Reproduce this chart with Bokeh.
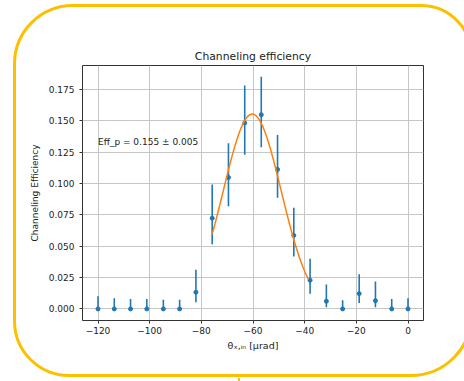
from bokeh.plotting import figure
from bokeh.models import (Range1d, FixedTicker, Label, ColumnDataSource, InlineStyleSheet)
from bokeh.embed import file_html
from bokeh.resources import INLINE
import numpy as np

# ---- data ----
theta_in = [-120.0, -113.7, -107.4, -101.1, -94.7, -88.4, -82.1, -75.8, -69.5, -63.2,
            -56.8, -50.5, -44.2, -37.9, -31.6, -25.3, -18.9, -12.6, -6.3, 0.0]
efficiency = [0.0, 0.0, 0.0, 0.0, 0.0, 0.0, 0.0133, 0.0724, 0.1049, 0.1484,
              0.1550, 0.1113, 0.0586, 0.0229, 0.0061, 0.0, 0.0122, 0.0066, 0.0, 0.0]
eff_lower = [0.0, 0.0, 0.0, 0.0, 0.0, 0.0, 0.0053, 0.0516, 0.0820, 0.1230,
             0.1290, 0.0887, 0.0418, 0.0120, 0.0013, 0.0, 0.0048, 0.0013, 0.0, 0.0]
eff_upper = [0.0101, 0.0085, 0.0080, 0.0080, 0.0074, 0.0074, 0.0312, 0.0993, 0.1323, 0.1782,
             0.1853, 0.1387, 0.0807, 0.0400, 0.0194, 0.0069, 0.0277, 0.0218, 0.0080, 0.0085]

# Gaussian fit parameters (as shown by the fitted curve)
fit_amp = 0.1555
fit_mu = -60.3
fit_sigma = 11.2
fit_range = (-75.8, -38.5)

x_ticks = [-120, -100, -80, -60, -40, -20, 0]
x_tick_labels = ["\u2212120", "\u2212100", "\u221280", "\u221260", "\u221240", "\u221220", "0"]
y_ticks = [0.0, 0.025, 0.05, 0.075, 0.1, 0.125, 0.15, 0.175]
y_tick_labels = ["0.000", "0.025", "0.050", "0.075", "0.100", "0.125", "0.150", "0.175"]

title_text = "Channeling efficiency"
x_label = "\u03b8\u2093,\u1d62\u2099 [\u03bcrad]"
y_label = "Channeling Efficiency"
annot_text = "Eff_p = 0.155 \u00b1 0.005"

FONT = "DejaVu Sans"
BLUE = "#1f77b4"
ORANGE = "#ff7f0e"
TXT = "#222222"

frame_css = InlineStyleSheet(css="""
:host { position: relative; }
:host::after {
  content: '';
  position: absolute;
  left: 12.75px; top: 3.75px;
  width: 460px; height: 373.5px;
  box-sizing: border-box;
  border: 3.5px solid #FCC000;
  border-radius: 60px 52px 62px 56px;
  pointer-events: none;
  z-index: 10;
}
:host::before {
  content: '';
  position: absolute;
  left: 238px; top: 378px;
  width: 2px; height: 3px;
  background: #FCC000;
  pointer-events: none;
  z-index: 10;
}
""")

p = figure(width=464, height=381, output_backend="svg", toolbar_location=None,
           x_range=Range1d(-126.0, 6.0), y_range=Range1d(-0.00925, 0.19425),
           min_border_left=82, min_border_right=41, min_border_top=65, min_border_bottom=61,
           stylesheets=[frame_css])

p.background_fill_color = "white"
p.border_fill_color = "white"
p.outline_line_color = "#333333"
p.outline_line_width = 1

p.title.text = title_text
p.title.align = "center"
p.title.text_font = FONT
p.title.text_font_size = "10.8px"
p.title.text_font_style = "normal"
p.title.text_color = TXT
p.title.standoff = 6

for ax in (p.xaxis[0], p.yaxis[0]):
    ax.axis_line_color = None
    ax.major_tick_line_color = "#333333"
    ax.major_tick_out = 3
    ax.major_tick_in = 0
    ax.minor_tick_line_color = None
    ax.major_label_text_font = FONT
    ax.major_label_text_font_size = "9px"
    ax.major_label_text_color = TXT
    ax.axis_label_text_font = FONT
    ax.axis_label_text_font_size = "9px"
    ax.axis_label_text_font_style = "normal"
    ax.axis_label_text_color = TXT

p.xaxis[0].ticker = FixedTicker(ticks=x_ticks)
p.xaxis[0].major_label_overrides = {t: l for t, l in zip(x_ticks, x_tick_labels)}
p.xaxis[0].major_label_standoff = 3
p.xaxis[0].axis_label = x_label
p.xaxis[0].axis_label_text_font_size = "9.5px"
p.xaxis[0].axis_label_standoff = 3

p.yaxis[0].ticker = FixedTicker(ticks=y_ticks)
p.yaxis[0].major_label_overrides = {t: l for t, l in zip(y_ticks, y_tick_labels)}
p.yaxis[0].major_label_standoff = 5
p.yaxis[0].axis_label = y_label
p.yaxis[0].axis_label_standoff = 6

p.xgrid.ticker = FixedTicker(ticks=x_ticks)
p.ygrid.ticker = FixedTicker(ticks=y_ticks)
p.grid.grid_line_color = "#c6c6c6"
p.grid.grid_line_width = 1

src = ColumnDataSource(dict(x=theta_in, y=efficiency, lo=eff_lower, hi=eff_upper))
p.segment(x0="x", y0="lo", x1="x", y1="hi", source=src, line_color=BLUE, line_width=1.6)
p.scatter(x="x", y="y", source=src, size=4, color=BLUE)

fx = np.linspace(fit_range[0], fit_range[1], 200)
fy = fit_amp * np.exp(-(fx - fit_mu) ** 2 / (2 * fit_sigma ** 2))
p.line(fx, fy, line_color=ORANGE, line_width=1.5)

p.add_layout(Label(x=-120, y=0.1335, text=annot_text, text_font=FONT, text_font_size="9px",
                   text_color=TXT, text_baseline="alphabetic", text_align="left"))

open("out.html", "w").write(file_html(p, INLINE))
